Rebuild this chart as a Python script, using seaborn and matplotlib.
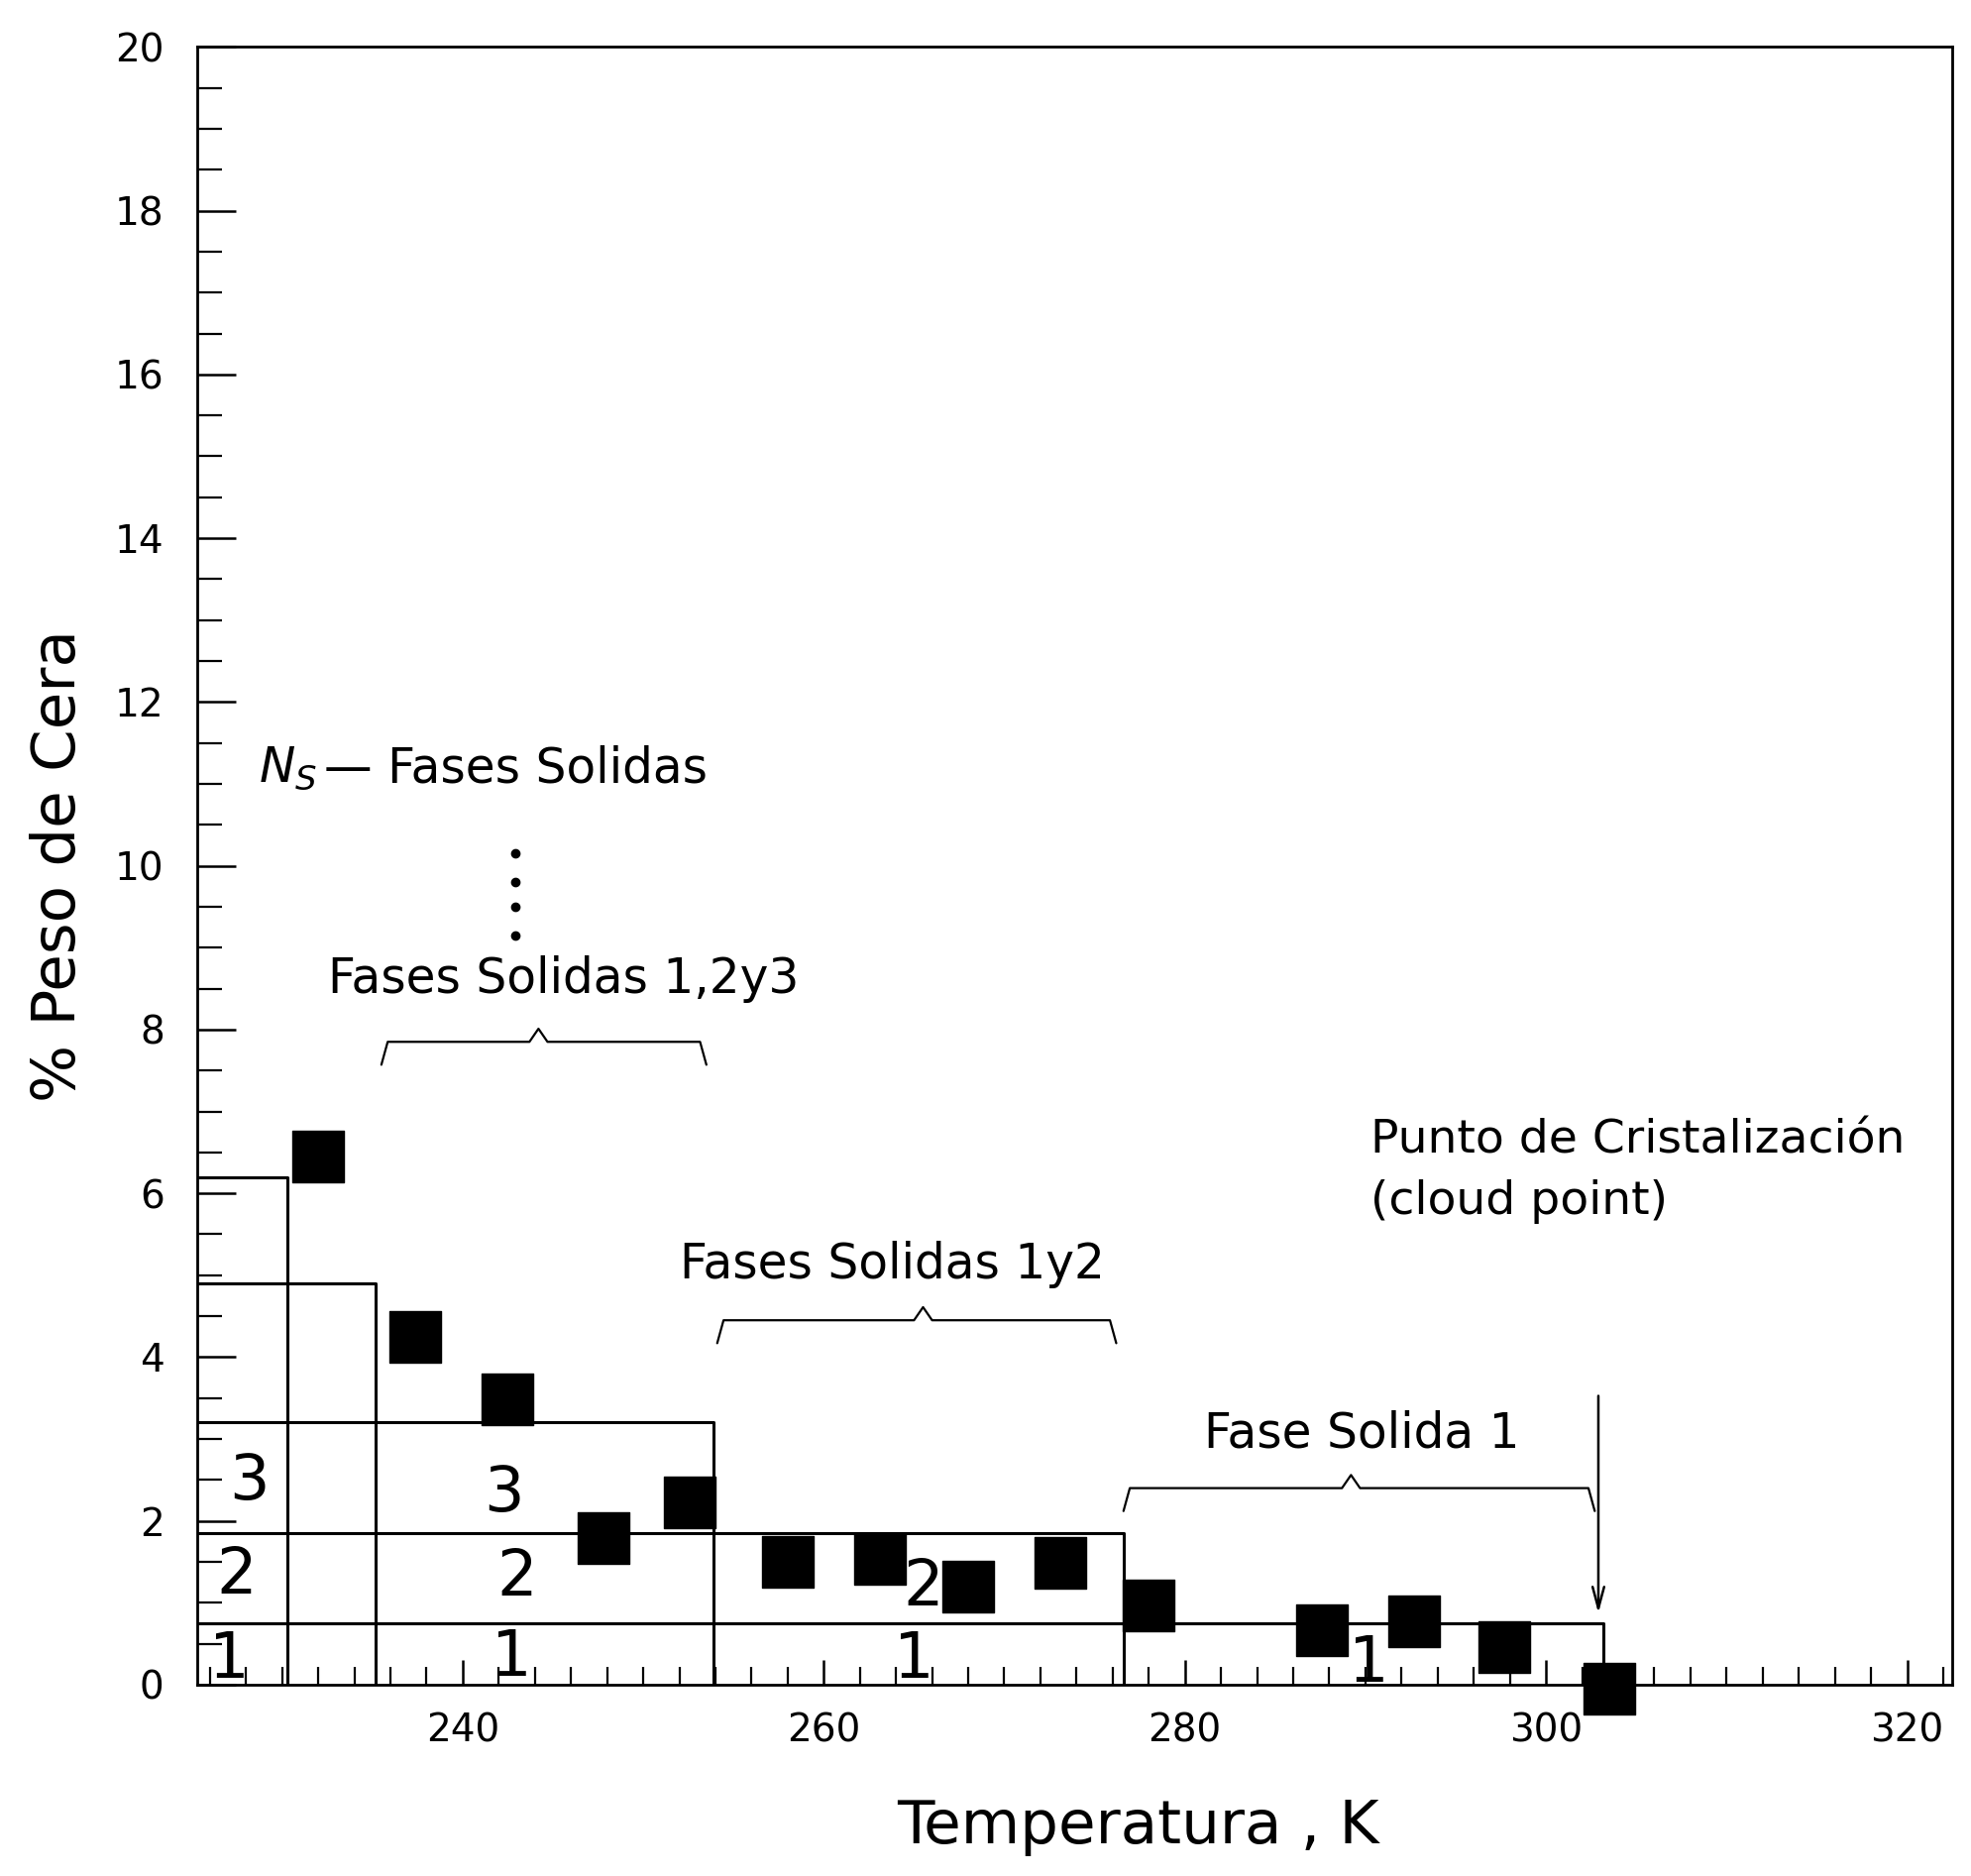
import matplotlib
matplotlib.use("Agg")
import matplotlib.pyplot as plt
import numpy as np
import pandas as pd
import seaborn as sns

# ---------------- data ----------------
temperature_K = [232.0, 237.4, 242.5, 247.8, 252.6, 258.0, 263.1, 268.0, 273.1, 278.0, 287.6, 292.7, 297.7, 303.5]
wax_weight_pct = [6.45, 4.25, 3.48, 1.79, 2.22, 1.50, 1.53, 1.20, 1.49, 0.97, 0.67, 0.77, 0.46, -0.05]

# phase boundary steps: horizontal level from left axis to T, then drop to 0
step_T = [230.3, 235.2, 253.9, 276.6, 303.2]
step_level = [6.2, 4.9, 3.2, 1.85, 0.75]

region_text = ["1", "1", "1", "1", "2", "2", "2", "3", "3"]
region_T = [227.1, 242.7, 265.0, 290.2, 227.5, 243.0, 265.5, 228.2, 242.3]
region_y = [0.30, 0.33, 0.30, 0.25, 1.33, 1.30, 1.18, 2.48, 2.33]

brace_T0 = [235.5, 254.1, 276.6]
brace_T1 = [253.5, 276.2, 302.7]
brace_tip = [244.2, 265.5, 289.2]
brace_y = [7.85, 4.45, 2.40]

dots_T = [242.9, 242.9, 242.9, 242.9]
dots_y = [10.15, 9.80, 9.50, 9.15]

x_ticks = [240, 260, 280, 300, 320]
y_ticks = [0, 2, 4, 6, 8, 10, 12, 14, 16, 18, 20]

XMIN, XMAX = 225.3, 322.5

# ---------------- style ----------------
sns.set_theme(style="ticks")
plt.rcParams["font.family"] = ["DejaVu Sans"]
plt.rcParams["mathtext.fontset"] = "dejavusans"
for k in ["text.color", "axes.labelcolor", "xtick.color", "ytick.color", "axes.edgecolor"]:
    plt.rcParams[k] = "black"

fig = plt.figure(figsize=(19.90, 18.93), dpi=100)
ax = fig.add_axes([0.100, 0.102, 0.890, 0.873])
ax.set_facecolor("white")

# step lines
rows = []
for i, (T, L) in enumerate(zip(step_T, step_level)):
    rows.append({"T": XMIN, "y": L, "seg": i})
    rows.append({"T": T, "y": L, "seg": i})
    rows.append({"T": T, "y": 0.0, "seg": i})
steps = pd.DataFrame(rows)
sns.lineplot(data=steps, x="T", y="y", units="seg", estimator=None, sort=False,
             color="black", lw=2.2, ax=ax, legend=False)

# data squares
pts = pd.DataFrame({"T": temperature_K, "w": wax_weight_pct})
sns.scatterplot(data=pts, x="T", y="w", marker="s", s=37**2, color="black",
                edgecolor="black", linewidth=1, ax=ax, clip_on=False, zorder=5, legend=False)

# region numbers
for t, x, y in zip(region_text, region_T, region_y):
    ax.text(x, y, t, fontsize=46, ha="center", va="center", color="black", zorder=4)

# braces
for x0, x1, xt, yb in zip(brace_T0, brace_T1, brace_tip, brace_y):
    bx = [x0, x0 + 0.35, xt - 0.5, xt, xt + 0.5, x1 - 0.35, x1]
    by = [yb - 0.28, yb, yb, yb + 0.16, yb, yb, yb - 0.28]
    ax.plot(bx, by, color="black", lw=1.6)

# dots
ax.plot(dots_T, dots_y, ls="none", marker="o", ms=6, color="black")

# annotation texts
TS = 35
ax.text(228.7, 11.19, r"$N_{S}$", fontsize=TS, ha="left", va="center")
ax.text(232.3, 11.19, "— Fases Solidas", fontsize=TS, ha="left", va="center")
ax.text(245.6, 8.61, "Fases Solidas 1,2y3", fontsize=TS, ha="center", va="center")
ax.text(263.8, 5.13, "Fases Solidas 1y2", fontsize=TS, ha="center", va="center")
ax.text(289.8, 3.07, "Fase Solida 1", fontsize=TS, ha="center", va="center")
ax.text(290.3, 6.64, "Punto de Cristalización", fontsize=34, ha="left", va="center")
ax.text(290.3, 5.90, "(cloud point)", fontsize=34, ha="left", va="center")

ax.annotate("", xy=(302.9, 0.84), xytext=(302.9, 3.56),
            arrowprops=dict(arrowstyle="->,head_length=1.3,head_width=0.35",
                            color="black", lw=1.8))

# axes
ax.set_xlim(XMIN, XMAX)
ax.set_ylim(0, 20)
ax.set_xticks(x_ticks)
ax.set_xticks(np.arange(226, 323, 2), minor=True)
ax.set_yticks(y_ticks)
ax.set_yticks(np.arange(0, 20.01, 0.5), minor=True)
ax.set_xticklabels([str(v) for v in x_ticks], fontsize=28)
ax.set_yticklabels([str(v) for v in y_ticks], fontsize=28)
ax.tick_params(axis="x", which="major", direction="in", length=18, width=1.8, pad=20)
ax.tick_params(axis="x", which="minor", direction="in", length=13, width=1.6)
ax.tick_params(axis="y", which="major", direction="in", length=28, width=1.8, pad=24)
ax.tick_params(axis="y", which="minor", direction="in", length=18, width=1.6)
for sp in ax.spines.values():
    sp.set_visible(True)
    sp.set_color("black")
    sp.set_linewidth(2.0)

ax.set_xlabel("Temperatura , K", fontsize=44, color="black")
ax.set_ylabel("% Peso de Cera", fontsize=44, color="black")
ax.xaxis.set_label_coords(0.536, -0.069)
ax.yaxis.set_label_coords(-0.062, 0.50)

fig.savefig("out.png", dpi=100, facecolor="white")
